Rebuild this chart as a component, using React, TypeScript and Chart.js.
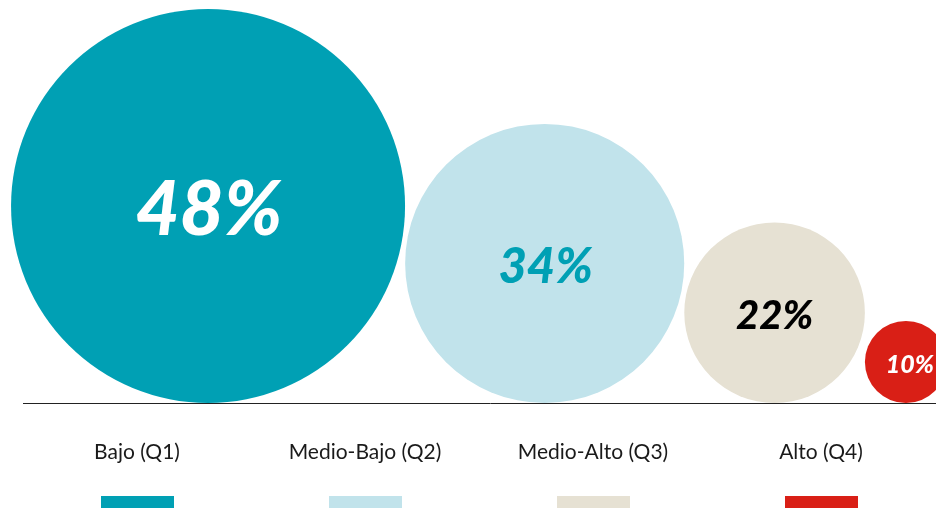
import React, { useEffect, useRef } from "react";
import { Chart, registerables } from "chart.js";

Chart.register(...registerables);

// ---- data ----
const categories: string[] = ["Bajo (Q1)", "Medio-Bajo (Q2)", "Medio-Alto (Q3)", "Alto (Q4)"];
const values: number[] = [48, 34, 22, 10];
const valueLabels: string[] = values.map((v) => `${v}%`);

// ---- styles ----
const fillColors = ["#00a0b4", "#c1e3eb", "#e6e1d3", "#d91f16"];
const textColors = ["#ffffff", "#00a0b4", "#000000", "#ffffff"];
const textSizes = [76, 49, 40, 25];
const textDx = [1, 1, 0, 4];
const FONT = "Lato, 'Open Sans', sans-serif";

// bubble centres: circles touch, each radius equals its value (in axis units)
const centers: number[] = values.map((v, i) =>
  values.slice(0, i).reduce((s, w) => s + 2 * w, 0) + v
);
const xMax = values.reduce((s, v) => s + 2 * v, 0);
const yMax = 2 * Math.max(...values);

const labelPlugin = {
  id: "bubbleLabels",
  afterDatasetsDraw(chart: any) {
    const { ctx } = chart;
    const meta = chart.getDatasetMeta(0);
    ctx.save();
    meta.data.forEach((el: any, i: number) => {
      const size = textSizes[i];
      ctx.font = `italic 900 ${size}px ${FONT}`;
      ctx.fillStyle = textColors[i];
      ctx.textAlign = "center";
      ctx.textBaseline = "alphabetic";
      ctx.fillText(valueLabels[i], el.x + textDx[i], el.y + size * 0.36 + 2);
    });
    // baseline
    const y0 = Math.round(chart.scales.y.getPixelForValue(0)) + 0.5;
    ctx.strokeStyle = "#222222";
    ctx.lineWidth = 1;
    ctx.beginPath();
    ctx.moveTo(23, y0);
    ctx.lineTo(chart.width, y0);
    ctx.stroke();
    ctx.restore();
  },
};

function BubbleChart() {
  const ref = useRef<HTMLCanvasElement | null>(null);
  useEffect(() => {
    if (!ref.current) return;
    const chart = new Chart(ref.current, {
      type: "scatter",
      data: {
        datasets: [
          {
            data: values.map((v, i) => ({ x: centers[i], y: v })),
            showLine: false,
            clip: false as any,
            pointStyle: "circle",
            pointBackgroundColor: fillColors,
            pointBorderWidth: 0,
            pointBorderColor: "rgba(0,0,0,0)",
            pointRadius: (c: any) => {
              const s = c.chart.scales.y;
              if (!s || !c.raw) return 0;
              return s.getPixelForValue(0) - s.getPixelForValue(c.raw.y);
            },
          } as any,
        ],
      },
      options: {
        animation: false,
        responsive: true,
        maintainAspectRatio: false,
        events: [],
        layout: { padding: { left: 11, right: 11, top: 9, bottom: 105 } },
        scales: {
          x: { type: "linear", min: 0, max: xMax, display: false },
          y: { type: "linear", min: 0, max: yMax, display: false },
        },
        plugins: { legend: { display: false }, tooltip: { enabled: false } },
      },
      plugins: [labelPlugin],
    });
    return () => chart.destroy();
  }, []);
  return (
    <div style={{ position: "absolute", left: 0, top: 0, width: 958, height: 508 }}>
      <canvas ref={ref} />
    </div>
  );
}

export default function App() {
  return (
    <div
      style={{
        position: "absolute",
        left: 0,
        top: 0,
        width: 936,
        height: 508,
        overflow: "hidden",
        background: "#ffffff",
      }}
    >
      <BubbleChart />
      <div
        style={{
          position: "absolute",
          left: 23,
          top: 0,
          width: 912,
          height: 508,
          display: "grid",
          gridTemplateColumns: "repeat(4, 1fr)",
        }}
      >
        {categories.map((c, i) => (
          <div key={c} style={{ position: "relative", height: 508 }}>
            <div
              style={{
                position: "absolute",
                top: 440,
                left: 0,
                right: 0,
                textAlign: "center",
                fontFamily: FONT,
                fontSize: 21,
                lineHeight: "21px",
                color: "#1a1a1a",
                whiteSpace: "nowrap",
              }}
            >
              {c}
            </div>
            <div
              style={{
                position: "absolute",
                top: 496,
                left: "50%",
                marginLeft: -36.5,
                width: 73,
                height: 12,
                background: fillColors[i],
              }}
            />
          </div>
        ))}
      </div>
    </div>
  );
}
